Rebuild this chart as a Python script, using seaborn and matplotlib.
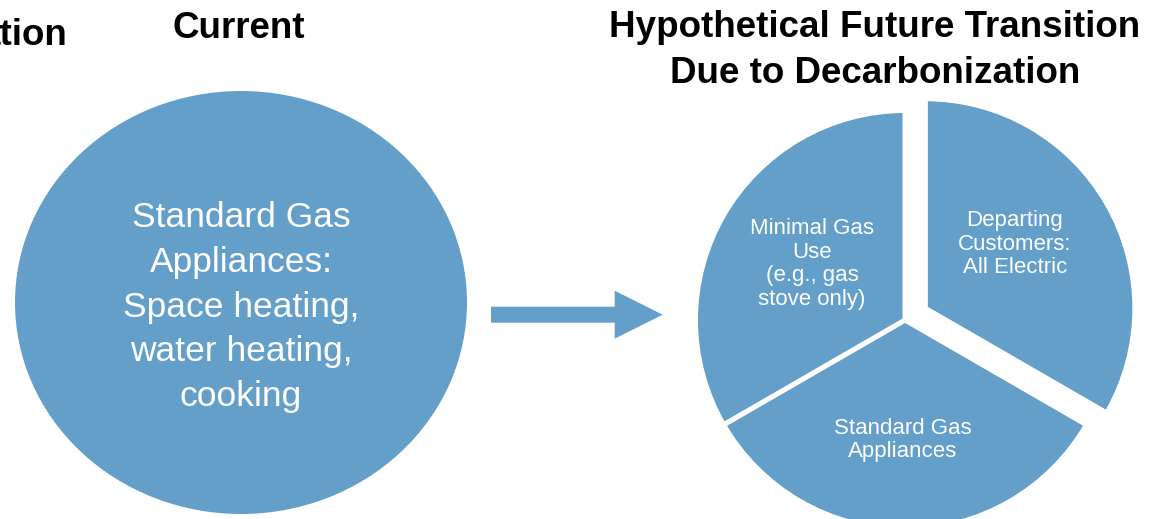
import matplotlib
matplotlib.use("Agg")
import matplotlib.pyplot as plt
from matplotlib.patches import Ellipse
import seaborn as sns

# left side: today everything is standard gas appliances
current_label = "Standard Gas\nAppliances:\nSpace heating,\nwater heating,\ncooking"

# right side: hypothetical split into three equal groups
future_labels = [
    "Departing\nCustomers:\nAll Electric",
    "Standard Gas\nAppliances",
    "Minimal Gas\nUse\n(e.g., gas\nstove only)",
]
future_shares = [1, 1, 1]
future_pulled = [1, 0, 0]  # departing slice is pulled out

left_title = "Current"
right_title = ["Hypothetical Future Transition", "Due to Decarbonization"]
cut_title = "ation"  # leftover of a title cut off at the left edge

sns.set_theme(style="white")
plt.rcParams["font.family"] = ["Liberation Sans", "DejaVu Sans"]

blue = "#639fc9"
W, H = 1153, 519

fig = plt.figure(figsize=(W / 100, H / 100), dpi=100)
ax = fig.add_axes([0, 0, 1, 1])

# the "current" blob
ax.add_patch(Ellipse((241, 216.5), 452, 423, facecolor=blue, lw=0))
ax.text(241, 212, current_label, ha="center", va="center", color="white",
        fontsize=25.5, linespacing=1.45)

# arrow between the two
ax.arrow(491, 204.3, 171.7, 0, width=16, head_width=48, head_length=48,
         length_includes_head=True, color=blue, lw=0)

# future pie
pull = 23.5
wedges, _ = ax.pie(
    future_shares,
    explode=[p * pull for p in future_pulled],
    center=(905, 199),
    radius=209.5,
    startangle=90,
    counterclock=False,
    colors=[blue] * len(future_shares),
    wedgeprops=dict(edgecolor="white", linewidth=3.6),
)

label_pos = [(1015, 275), (903, 79), (812, 255)]
for (x, y), lab in zip(label_pos, future_labels):
    ax.text(x, y, lab, ha="center", va="center", color="white",
            fontsize=16, linespacing=1.18)

# titles
ax.text(239, 481, left_title, ha="center", va="baseline",
        fontsize=26.5, fontweight="bold", color="black")
ax.text(875, 482, right_title[0], ha="center", va="baseline",
        fontsize=26.5, fontweight="bold", color="black")
ax.text(875, 436, right_title[1], ha="center", va="baseline",
        fontsize=26.5, fontweight="bold", color="black")
ax.text(68, 474, cut_title, ha="right", va="baseline",
        fontsize=26.5, fontweight="bold", color="black")

ax.set_xlim(0, W)
ax.set_ylim(0, H)
ax.set_aspect("equal")
ax.axis("off")

fig.savefig("out.png", dpi=100, facecolor="white")
